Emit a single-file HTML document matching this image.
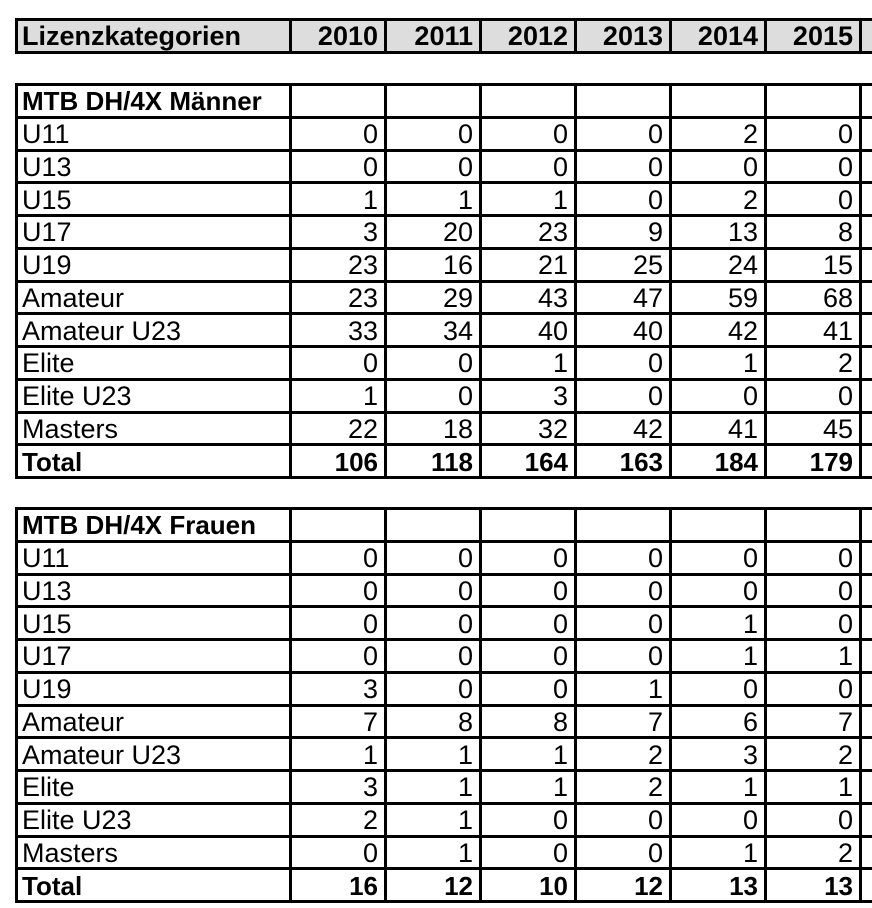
<!DOCTYPE html>
<html><head><meta charset="utf-8"><style>
body{margin:0;width:872px;height:908px;background:#fff;overflow:hidden;font-family:"Liberation Sans",Arial,sans-serif;position:relative;}
table{position:absolute;left:15px;border-collapse:collapse;table-layout:fixed;width:890px;}
td{border:3px solid #000;padding:2px 6px 0 5px;font-size:27px;line-height:27px;height:27.75px;white-space:nowrap;overflow:hidden;text-align:right;color:#000;}
td:first-child{text-align:left;padding-left:4px;}
.b td{font-weight:bold;font-size:26px;}
.h td{background:#ddd;font-weight:bold;font-size:27px;}
</style></head><body>
<table style="top:18px"><colgroup><col style="width:274px"><col style="width:95px"><col style="width:95px"><col style="width:95px"><col style="width:95px"><col style="width:95px"><col style="width:95px"><col style="width:46px"></colgroup>
<tr class="h"><td>Lizenzkategorien</td><td>2010</td><td>2011</td><td>2012</td><td>2013</td><td>2014</td><td>2015</td><td></td></tr></table>

<table style="top:83px"><colgroup><col style="width:274px"><col style="width:95px"><col style="width:95px"><col style="width:95px"><col style="width:95px"><col style="width:95px"><col style="width:95px"><col style="width:46px"></colgroup>
<tr class="b"><td>MTB DH/4X Männer</td><td></td><td></td><td></td><td></td><td></td><td></td><td></td></tr>
<tr><td>U11</td><td>0</td><td>0</td><td>0</td><td>0</td><td>2</td><td>0</td><td></td></tr>
<tr><td>U13</td><td>0</td><td>0</td><td>0</td><td>0</td><td>0</td><td>0</td><td></td></tr>
<tr><td>U15</td><td>1</td><td>1</td><td>1</td><td>0</td><td>2</td><td>0</td><td></td></tr>
<tr><td>U17</td><td>3</td><td>20</td><td>23</td><td>9</td><td>13</td><td>8</td><td></td></tr>
<tr><td>U19</td><td>23</td><td>16</td><td>21</td><td>25</td><td>24</td><td>15</td><td></td></tr>
<tr><td>Amateur</td><td>23</td><td>29</td><td>43</td><td>47</td><td>59</td><td>68</td><td></td></tr>
<tr><td>Amateur U23</td><td>33</td><td>34</td><td>40</td><td>40</td><td>42</td><td>41</td><td></td></tr>
<tr><td>Elite</td><td>0</td><td>0</td><td>1</td><td>0</td><td>1</td><td>2</td><td></td></tr>
<tr><td>Elite U23</td><td>1</td><td>0</td><td>3</td><td>0</td><td>0</td><td>0</td><td></td></tr>
<tr><td>Masters</td><td>22</td><td>18</td><td>32</td><td>42</td><td>41</td><td>45</td><td></td></tr>
<tr class="b"><td>Total</td><td>106</td><td>118</td><td>164</td><td>163</td><td>184</td><td>179</td><td></td></tr>
</table>

<table style="top:507px"><colgroup><col style="width:274px"><col style="width:95px"><col style="width:95px"><col style="width:95px"><col style="width:95px"><col style="width:95px"><col style="width:95px"><col style="width:46px"></colgroup>
<tr class="b"><td>MTB DH/4X Frauen</td><td></td><td></td><td></td><td></td><td></td><td></td><td></td></tr>
<tr><td>U11</td><td>0</td><td>0</td><td>0</td><td>0</td><td>0</td><td>0</td><td></td></tr>
<tr><td>U13</td><td>0</td><td>0</td><td>0</td><td>0</td><td>0</td><td>0</td><td></td></tr>
<tr><td>U15</td><td>0</td><td>0</td><td>0</td><td>0</td><td>1</td><td>0</td><td></td></tr>
<tr><td>U17</td><td>0</td><td>0</td><td>0</td><td>0</td><td>1</td><td>1</td><td></td></tr>
<tr><td>U19</td><td>3</td><td>0</td><td>0</td><td>1</td><td>0</td><td>0</td><td></td></tr>
<tr><td>Amateur</td><td>7</td><td>8</td><td>8</td><td>7</td><td>6</td><td>7</td><td></td></tr>
<tr><td>Amateur U23</td><td>1</td><td>1</td><td>1</td><td>2</td><td>3</td><td>2</td><td></td></tr>
<tr><td>Elite</td><td>3</td><td>1</td><td>1</td><td>2</td><td>1</td><td>1</td><td></td></tr>
<tr><td>Elite U23</td><td>2</td><td>1</td><td>0</td><td>0</td><td>0</td><td>0</td><td></td></tr>
<tr><td>Masters</td><td>0</td><td>1</td><td>0</td><td>0</td><td>1</td><td>2</td><td></td></tr>
<tr class="b"><td>Total</td><td>16</td><td>12</td><td>10</td><td>12</td><td>13</td><td>13</td><td></td></tr>
</table>
</body></html>
